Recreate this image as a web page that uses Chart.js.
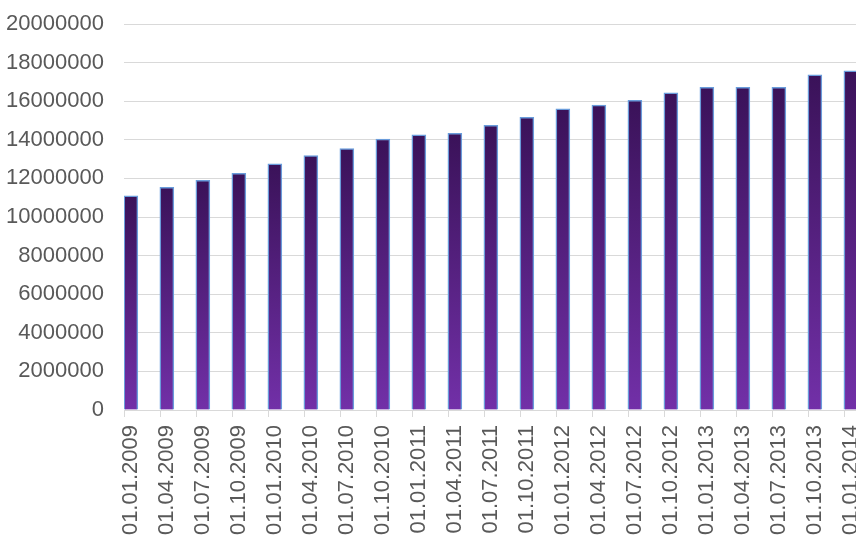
<!DOCTYPE html>
<html>
<head>
<meta charset="utf-8">
<script src="https://cdn.jsdelivr.net/npm/chart.js@4"></script>
<style>
  html, body { margin: 0; padding: 0; background: #fff; overflow: hidden; }
  #wrap { width: 856px; height: 535px; overflow: hidden; }
</style>
</head>
<body>
<div id="wrap">
  <canvas id="chart" width="884" height="535"></canvas>
</div>
<script>
// Quarter dates on the x axis
const dates = [
  "01.01.2009", "01.04.2009", "01.07.2009", "01.10.2009",
  "01.01.2010", "01.04.2010", "01.07.2010", "01.10.2010",
  "01.01.2011", "01.04.2011", "01.07.2011", "01.10.2011",
  "01.01.2012", "01.04.2012", "01.07.2012", "01.10.2012",
  "01.01.2013", "01.04.2013", "01.07.2013", "01.10.2013",
  "01.01.2014"
];

// Values
const values = [
  11100000, 11540000, 11900000, 12260000,
  12760000, 13180000, 13540000, 14040000,
  14260000, 14340000, 14750000, 15160000,
  15600000, 15800000, 16050000, 16440000,
  16720000, 16720000, 16720000, 17370000,
  17580000
];

// Y axis range
const yMin = 0;
const yMax = 20000000;
const yStep = 2000000;

const colors = {
  barTop: "#3a1259",
  barBottom: "#7230a8",
  barBorder: "#6a9cdb",
  grid: "#d9d9d9",
  text: "#595959"
};

const BAR_WIDTH = 14;

// Small tick marks under the axis, at the left edge of every bar
const barTicks = {
  id: "barTicks",
  afterDraw(chart) {
    const ctx = chart.ctx;
    const x = chart.scales.x;
    const bottom = chart.chartArea.bottom;
    ctx.save();
    ctx.strokeStyle = colors.grid;
    ctx.lineWidth = 1;
    dates.forEach((d, i) => {
      const px = Math.round(x.getPixelForValue(i) - BAR_WIDTH / 2) + 0.5;
      ctx.beginPath();
      ctx.moveTo(px, bottom);
      ctx.lineTo(px, bottom + 7);
      ctx.stroke();
    });
    ctx.restore();
  }
};

// Drop the automatic label overhang padding so the plot area stays put
function noPadding(scale) {
  scale.paddingLeft = 0;
  scale.paddingRight = 0;
  scale.paddingTop = 0;
  scale.paddingBottom = 0;
}

const ctx = document.getElementById("chart").getContext("2d");

new Chart(ctx, {
  type: "bar",
  data: {
    datasets: [
      {
        label: "Value",
        data: values.map((v, i) => ({ x: i, y: v })),
        barThickness: BAR_WIDTH,
        borderWidth: 1.5,
        borderColor: colors.barBorder,
        backgroundColor: function (context) {
          const chart = context.chart;
          const y = chart.scales.y;
          if (!y || !context.parsed) {
            return colors.barBottom;
          }
          const top = y.getPixelForValue(context.parsed.y);
          const bottom = y.getPixelForValue(0);
          if (!isFinite(top) || !isFinite(bottom) || top === bottom) {
            return colors.barBottom;
          }
          const g = chart.ctx.createLinearGradient(0, top, 0, bottom);
          g.addColorStop(0, colors.barTop);
          g.addColorStop(1, colors.barBottom);
          return g;
        }
      }
    ]
  },
  options: {
    responsive: false,
    animation: false,
    layout: { padding: { top: 24, right: 0, left: 0, bottom: 0 } },
    plugins: {
      legend: { display: false },
      tooltip: { enabled: false }
    },
    scales: {
      x: {
        type: "linear",
        offset: false,
        min: -0.19,
        max: 20.92,
        grid: { display: false },
        border: { display: false },
        afterFit: function (scale) {
          scale.height = 125;
          noPadding(scale);
        },
        ticks: {
          stepSize: 1,
          includeBounds: false,
          autoSkip: false,
          minRotation: 90,
          maxRotation: 90,
          padding: 7,
          color: colors.text,
          font: { family: "'Liberation Sans', Arial, sans-serif", size: 22 },
          callback: function (value) {
            return Number.isInteger(value) && dates[value] ? dates[value] : "";
          }
        }
      },
      y: {
        min: yMin,
        max: yMax,
        grid: { color: colors.grid, lineWidth: 1, drawTicks: false },
        border: { display: false },
        afterFit: function (scale) {
          scale.width = 124;
          noPadding(scale);
        },
        ticks: {
          stepSize: yStep,
          padding: 20,
          color: colors.text,
          font: { family: "'Liberation Sans', Arial, sans-serif", size: 22 },
          callback: function (value) {
            return String(value);
          }
        }
      }
    }
  },
  plugins: [barTicks]
});
</script>
</body>
</html>
